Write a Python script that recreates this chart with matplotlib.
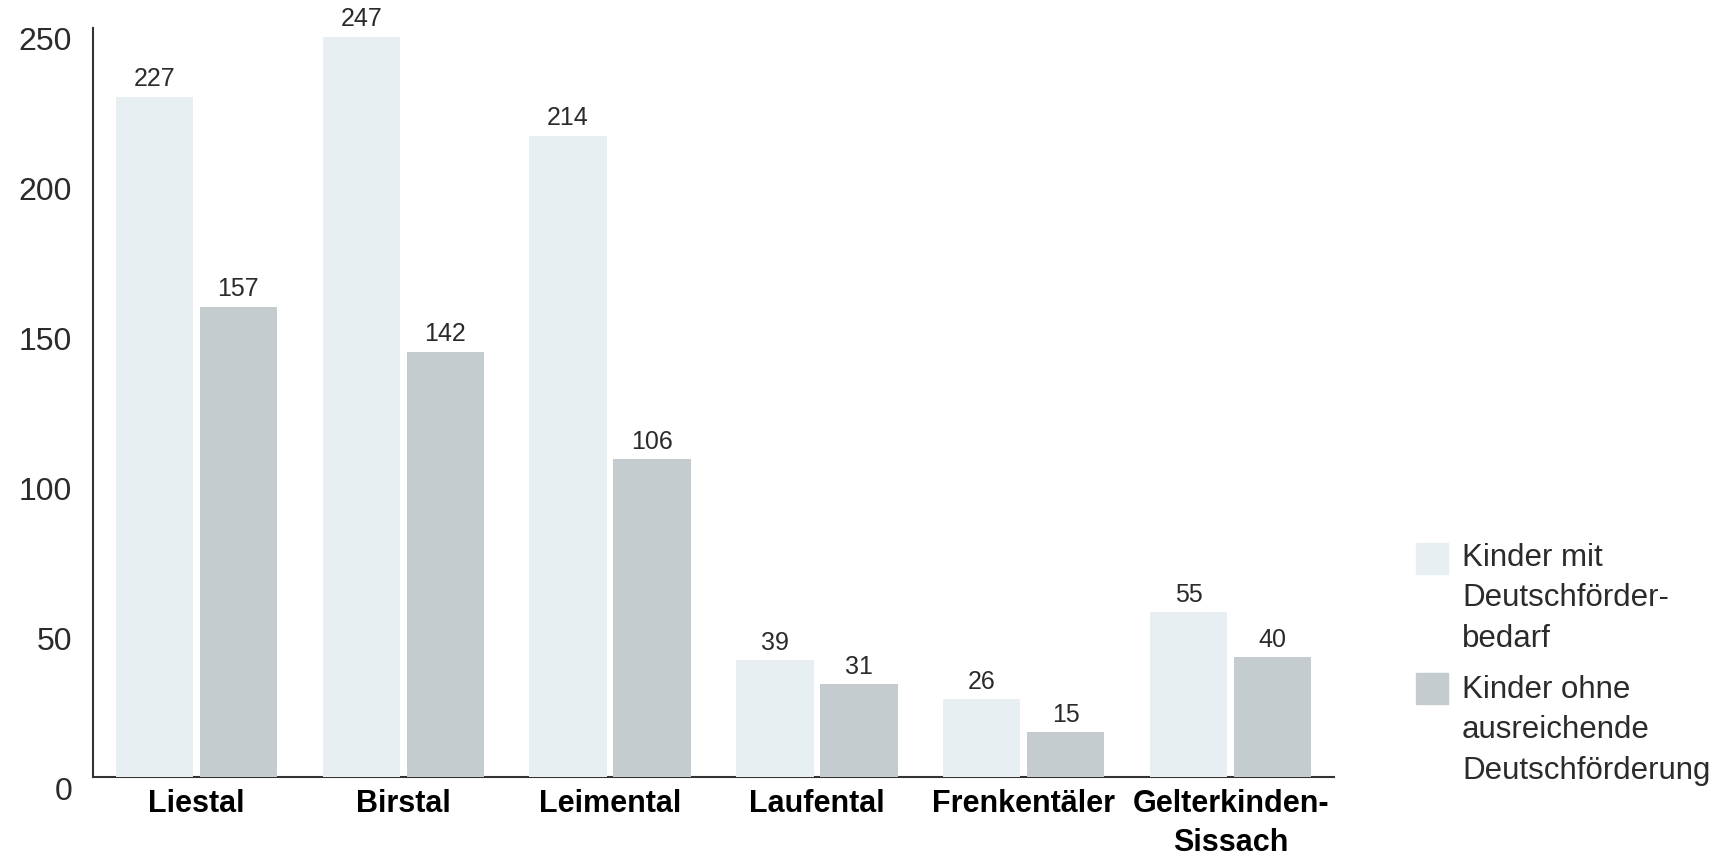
import numpy as np
import matplotlib
matplotlib.use("Agg")
import matplotlib.pyplot as plt
from matplotlib.transforms import ScaledTranslation
from matplotlib.patches import Rectangle

# data
regions = ["Liestal", "Birstal", "Leimental", "Laufental", "Frenkentäler", "Gelterkinden-\nSissach"]
mit_bedarf = [227, 247, 214, 39, 26, 55]
ohne_foerderung = [157, 142, 106, 31, 15, 40]
series_labels = ["Kinder mit\nDeutschförder-\nbedarf", "Kinder ohne\nausreichende\nDeutschförderung"]
yticks = [0, 50, 100, 150, 200, 250]

c_light = "#e8eff2"
c_dark = "#c5ccd0"
c_text = "#2b2b2b"

plt.rcParams['font.family'] = ['Liberation Sans', 'DejaVu Sans']

fig = plt.figure(figsize=(17.34, 8.56), dpi=100)
ax = fig.add_axes([93 / 1734, 1 - 777 / 856, (1334 - 93) / 1734, (777 - 28) / 856])

x = np.arange(len(regions))
w = 0.374
off = 0.203
b1 = ax.bar(x - off, mit_bedarf, w, color=c_light, zorder=3)
b2 = ax.bar(x + off, ohne_foerderung, w, color=c_dark, zorder=3)
ax.bar_label(b1, padding=4, fontsize=18, color=c_text)
ax.bar_label(b2, padding=4, fontsize=18, color=c_text)

ax.set_xlim(-0.5, 5.5)
ax.set_ylim(0, 250)
ax.set_yticks(yticks)
ax.set_xticks(x)
ax.set_xticklabels(regions, fontsize=22, fontweight='bold', color='black', linespacing=1.38)
ax.tick_params(axis='both', length=0)
ax.tick_params(axis='y', labelsize=23, labelcolor=c_text, pad=15)
ax.tick_params(axis='x', pad=9)

# y labels sit a little below their gridline in the original
shift = ScaledTranslation(0, -11 / 100, fig.dpi_scale_trans)
for lab in ax.get_yticklabels():
    lab.set_transform(lab.get_transform() + shift)

for s in ["top", "right"]:
    ax.spines[s].set_visible(False)
for s in ["left", "bottom"]:
    ax.spines[s].set_color("#333333")
    ax.spines[s].set_linewidth(1.5)
    ax.spines[s].set_zorder(2)

# legend drawn by hand: square aligned to first text line
W, H = 1734, 856
for i, (lab, col) in enumerate(zip(series_labels, [c_light, c_dark])):
    sq_top = [543, 673][i]
    txt_top = [543, 675][i]
    fig.patches.append(Rectangle((1416 / W, 1 - (sq_top + 31) / H), 32 / W, 31 / H,
                                 transform=fig.transFigure, color=col))
    fig.text(1462 / W, 1 - txt_top / H, lab, fontsize=22.5, color=c_text,
             va='top', ha='left', linespacing=1.45)

fig.savefig("out.png", dpi=100)
